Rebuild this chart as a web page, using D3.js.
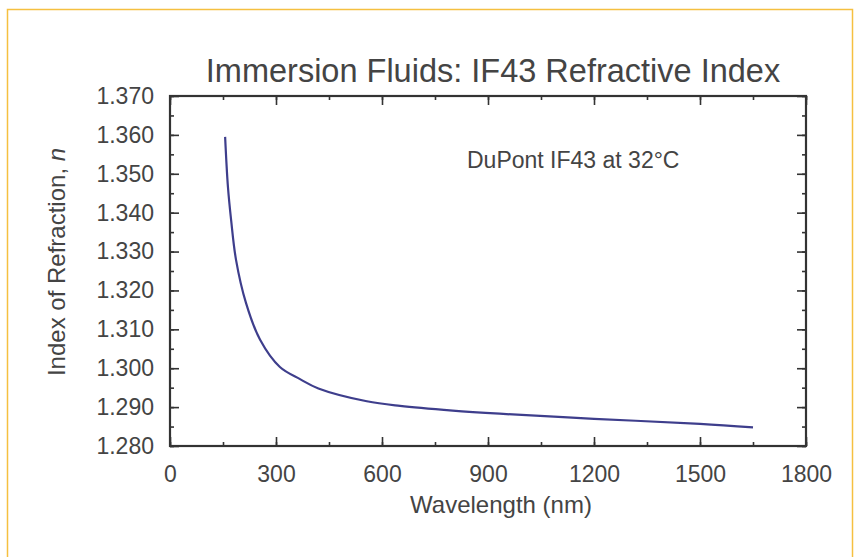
<!DOCTYPE html>
<html>
<head>
<meta charset="utf-8">
<script src="https://cdn.jsdelivr.net/npm/d3@7"></script>
<style>
  body { margin: 0; background: #fff; }
  svg { display: block; font-family: "Liberation Sans", Arial, sans-serif; }
</style>
</head>
<body>
<svg id="chart"></svg>
<script>
// wavelength (nm) and refractive index
const wavelength = [156, 164, 173, 187, 215, 255, 311, 368, 420, 557, 651, 800, 933, 1200, 1500, 1650];
const refIndex = [1.3595, 1.3466, 1.3381, 1.3278, 1.3168, 1.3073, 1.3003, 1.2972, 1.2948, 1.2915, 1.2903, 1.2891, 1.2883, 1.2870, 1.2857, 1.2848];
const xTicks = [0, 300, 600, 900, 1200, 1500, 1800];
const yTicks = [1.28, 1.29, 1.30, 1.31, 1.32, 1.33, 1.34, 1.35, 1.36, 1.37];

const width = 859;
const height = 557;
const marginTop = 96;
const marginRight = 53;
const marginBottom = 111;
const marginLeft = 170;

const data = wavelength.map((w, i) => ({w: w, n: refIndex[i]}));

const x = d3.scaleLinear()
      .domain([0, 1800])
      .range([marginLeft, width - marginRight]);
const y = d3.scaleLinear()
      .domain([1.28, 1.37])
      .range([height - marginBottom, marginTop]);

const svg = d3.select("#chart")
      .attr("width", width)
      .attr("height", height)
      .attr("viewBox", [0, 0, width, height]);

// orange frame
svg.append("rect")
  .attr("x", 7.5)
  .attr("y", 9.5)
  .attr("width", 845)
  .attr("height", 560)
  .attr("fill", "none")
  .attr("stroke", "#f5c040")
  .attr("stroke-width", 1.5);

const axisColor = "#333";
const xMinor = d3.range(0, 1801, 150);
const yMinor = d3.range(1.28, 1.3701, 0.005);

// bottom axis
svg.append("g")
  .attr("transform", `translate(0,${height - marginBottom})`)
  .call(d3.axisBottom(x).tickValues(xMinor).tickSize(-4).tickFormat(""))
  .call(g => g.select(".domain").remove());
svg.append("g")
  .attr("transform", `translate(0,${height - marginBottom})`)
  .call(d3.axisBottom(x).tickValues(xTicks).tickSize(-9).tickPadding(20).tickFormat(d3.format("d")))
  .call(g => g.select(".domain").remove())
  .call(g => g.selectAll("text").attr("font-size", 23).attr("fill", "#444").attr("font-family", "Liberation Sans, Arial, sans-serif"));
// top axis
svg.append("g")
  .attr("transform", `translate(0,${marginTop})`)
  .call(d3.axisTop(x).tickValues(xMinor).tickSize(-4).tickFormat(""))
  .call(g => g.select(".domain").remove());
svg.append("g")
  .attr("transform", `translate(0,${marginTop})`)
  .call(d3.axisTop(x).tickValues(xTicks).tickSize(-9).tickFormat(""))
  .call(g => g.select(".domain").remove());
// left axis
svg.append("g")
  .attr("transform", `translate(${marginLeft},0)`)
  .call(d3.axisLeft(y).tickValues(yMinor).tickSize(-4).tickFormat(""))
  .call(g => g.select(".domain").remove());
svg.append("g")
  .attr("transform", `translate(${marginLeft},0)`)
  .call(d3.axisLeft(y).tickValues(yTicks).tickSize(-9).tickPadding(16).tickFormat(d3.format(".3f")))
  .call(g => g.select(".domain").remove())
  .call(g => g.selectAll("text").attr("font-size", 23).attr("fill", "#444").attr("font-family", "Liberation Sans, Arial, sans-serif"));
// right axis
svg.append("g")
  .attr("transform", `translate(${width - marginRight},0)`)
  .call(d3.axisRight(y).tickValues(yMinor).tickSize(-4).tickFormat(""))
  .call(g => g.select(".domain").remove());
svg.append("g")
  .attr("transform", `translate(${width - marginRight},0)`)
  .call(d3.axisRight(y).tickValues(yTicks).tickSize(-9).tickFormat(""))
  .call(g => g.select(".domain").remove());

svg.selectAll(".tick line")
  .attr("stroke", axisColor)
  .attr("stroke-width", 1.6);

// frame of plot area
svg.append("rect")
  .attr("x", marginLeft)
  .attr("y", marginTop)
  .attr("width", width - marginLeft - marginRight)
  .attr("height", height - marginTop - marginBottom)
  .attr("fill", "none")
  .attr("stroke", axisColor)
  .attr("stroke-width", 2.2);

// curve
const line = d3.line()
      .x(d => x(d.w))
      .y(d => y(d.n))
      .curve(d3.curveCatmullRom.alpha(0.5));
svg.append("path")
  .attr("fill", "none")
  .attr("stroke", "#3e3e8c")
  .attr("stroke-width", 2.2)
  .attr("d", line(data));

// texts
svg.append("text")
  .attr("x", 493)
  .attr("y", 82)
  .attr("text-anchor", "middle")
  .attr("font-size", 32.5)
  .attr("fill", "#444")
  .text("Immersion Fluids: IF43 Refractive Index");

svg.append("text")
  .attr("x", 467)
  .attr("y", 168)
  .attr("font-size", 23)
  .attr("fill", "#444")
  .text("DuPont IF43 at 32°C");

svg.append("text")
  .attr("x", 501)
  .attr("y", 513)
  .attr("text-anchor", "middle")
  .attr("font-size", 24)
  .attr("fill", "#444")
  .text("Wavelength (nm)");

svg.append("text")
  .attr("transform", `translate(65,262) rotate(-90)`)
  .attr("text-anchor", "middle")
  .attr("font-size", 24)
  .attr("fill", "#444")
  .call(t => t.append("tspan").text("Index of Refraction, "))
  .call(t => t.append("tspan").attr("font-style", "italic").text("n"));
</script>
</body>
</html>
